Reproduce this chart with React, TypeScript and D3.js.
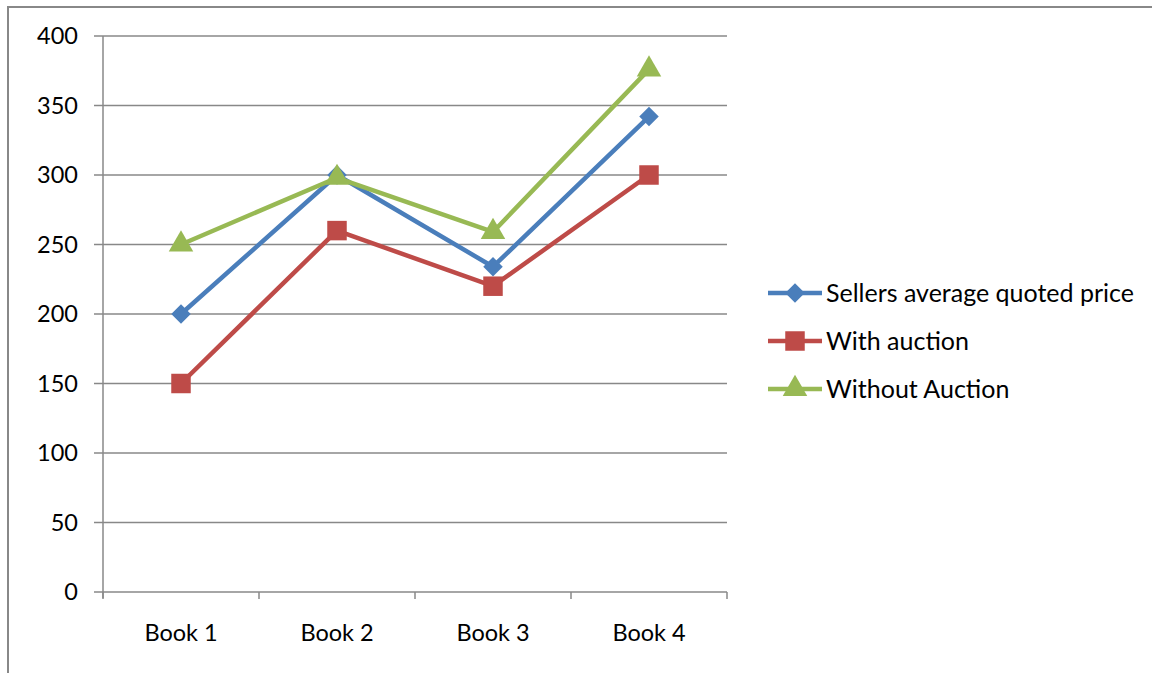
import React, { useRef, useEffect } from 'react';
import * as d3 from 'd3';

// data
const categories = ['Book 1', 'Book 2', 'Book 3', 'Book 4'];
const sellersAvg = [200, 300, 234, 342];
const withAuction = [150, 260, 220, 300];
const withoutAuction = [250, 298, 259, 376];
const yTicks = [0, 50, 100, 150, 200, 250, 300, 350, 400];

const seriesNames = ['Sellers average quoted price', 'With auction', 'Without Auction'];
const seriesColors = ['#4A7EBB', '#BE4B48', '#98B954'];
const seriesShapes = ['diamond', 'square', 'triangle'];

const W = 1152;
const H = 673;

const App = () => {
    const svgRef = useRef<SVGSVGElement>(null);

    useEffect(() => {
        const svg = d3.select(svgRef.current);
        svg.selectAll('*').remove();

        const left = 103, right = 727, top = 36, bottom = 592;
        const font = 'Lato, "Open Sans", sans-serif';
        const gray = '#888888';

        // outer frame
        svg.append('rect')
            .attr('x', 8).attr('y', 7)
            .attr('width', W + 20).attr('height', H + 20)
            .attr('fill', '#fff')
            .attr('stroke', gray).attr('stroke-width', 2);

        const x = d3.scaleBand().domain(categories).range([left, right]);
        const y = d3.scaleLinear().domain([0, 400]).range([bottom, top]);

        const g = svg.append('g');

        // gridlines + y ticks
        g.selectAll('.grid')
            .data(yTicks)
            .enter()
            .append('line')
            .attr('x1', left - 9).attr('x2', right)
            .attr('y1', d => y(d)).attr('y2', d => y(d))
            .attr('stroke', gray).attr('stroke-width', 1.5);

        g.selectAll('.ylab')
            .data(yTicks)
            .enter()
            .append('text')
            .attr('x', 78).attr('y', d => y(d))
            .attr('dy', '0.36em')
            .attr('text-anchor', 'end')
            .style('font-family', font).style('font-size', '23.5px')
            .attr('fill', '#000')
            .text(d => d);

        // axes
        g.append('line')
            .attr('x1', left).attr('x2', left).attr('y1', top).attr('y2', bottom + 6)
            .attr('stroke', gray).attr('stroke-width', 1.5);

        const xTickPos = categories.map(c => x(c)!).concat([right]);
        g.selectAll('.xtick')
            .data(xTickPos)
            .enter()
            .append('line')
            .attr('x1', d => d).attr('x2', d => d)
            .attr('y1', bottom).attr('y2', bottom + 7)
            .attr('stroke', gray).attr('stroke-width', 1.5);

        g.selectAll('.xlab')
            .data(categories)
            .enter()
            .append('text')
            .attr('x', d => x(d)! + x.bandwidth() / 2)
            .attr('y', 633)
            .attr('dy', '0.36em')
            .attr('text-anchor', 'middle')
            .style('font-family', font).style('font-size', '23.5px')
            .attr('fill', '#000')
            .text(d => d);

        const allSeries = [sellersAvg, withAuction, withoutAuction];
        const line = d3.line<number>()
            .x((d, i) => x(categories[i])! + x.bandwidth() / 2)
            .y(d => y(d));

        const symbolFor = (shape: string) => {
            if (shape === 'diamond') return d3.symbol().type(d3.symbolSquare).size(190)();
            if (shape === 'square') return d3.symbol().type(d3.symbolSquare).size(380)();
            return d3.symbol().type(d3.symbolTriangle).size(260)();
        };

        allSeries.forEach((vals, si) => {
            g.append('path')
                .datum(vals)
                .attr('d', line)
                .attr('fill', 'none')
                .attr('stroke', seriesColors[si])
                .attr('stroke-width', 4.5)
                .attr('stroke-linejoin', 'round');

            g.selectAll('.m' + si)
                .data(vals)
                .enter()
                .append('path')
                .attr('d', symbolFor(seriesShapes[si]))
                .attr('transform', (d, i) => {
                    const px = x(categories[i])! + x.bandwidth() / 2;
                    const rot = seriesShapes[si] === 'diamond' ? ' rotate(45)' : '';
                    return `translate(${px}, ${y(d)})${rot}`;
                })
                .attr('fill', seriesColors[si]);
        });

        // legend
        const legend = svg.append('g');
        seriesNames.forEach((name, i) => {
            const ly = 293 + i * 48;
            legend.append('line')
                .attr('x1', 768).attr('x2', 822).attr('y1', ly).attr('y2', ly)
                .attr('stroke', seriesColors[i]).attr('stroke-width', 4.5);
            const rot = seriesShapes[i] === 'diamond' ? ' rotate(45)' : '';
            legend.append('path')
                .attr('d', symbolFor(seriesShapes[i]))
                .attr('transform', `translate(795, ${ly})${rot}`)
                .attr('fill', seriesColors[i]);
            legend.append('text')
                .attr('x', 826).attr('y', ly)
                .attr('dy', '0.36em')
                .style('font-family', font).style('font-size', '25px')
                .attr('fill', '#000')
                .text(name);
        });
    }, []);

    return (
        <svg ref={svgRef} width={W} height={H}
            style={{ position: 'absolute', left: 0, top: 0, display: 'block' }} />
    );
};

export default App;
